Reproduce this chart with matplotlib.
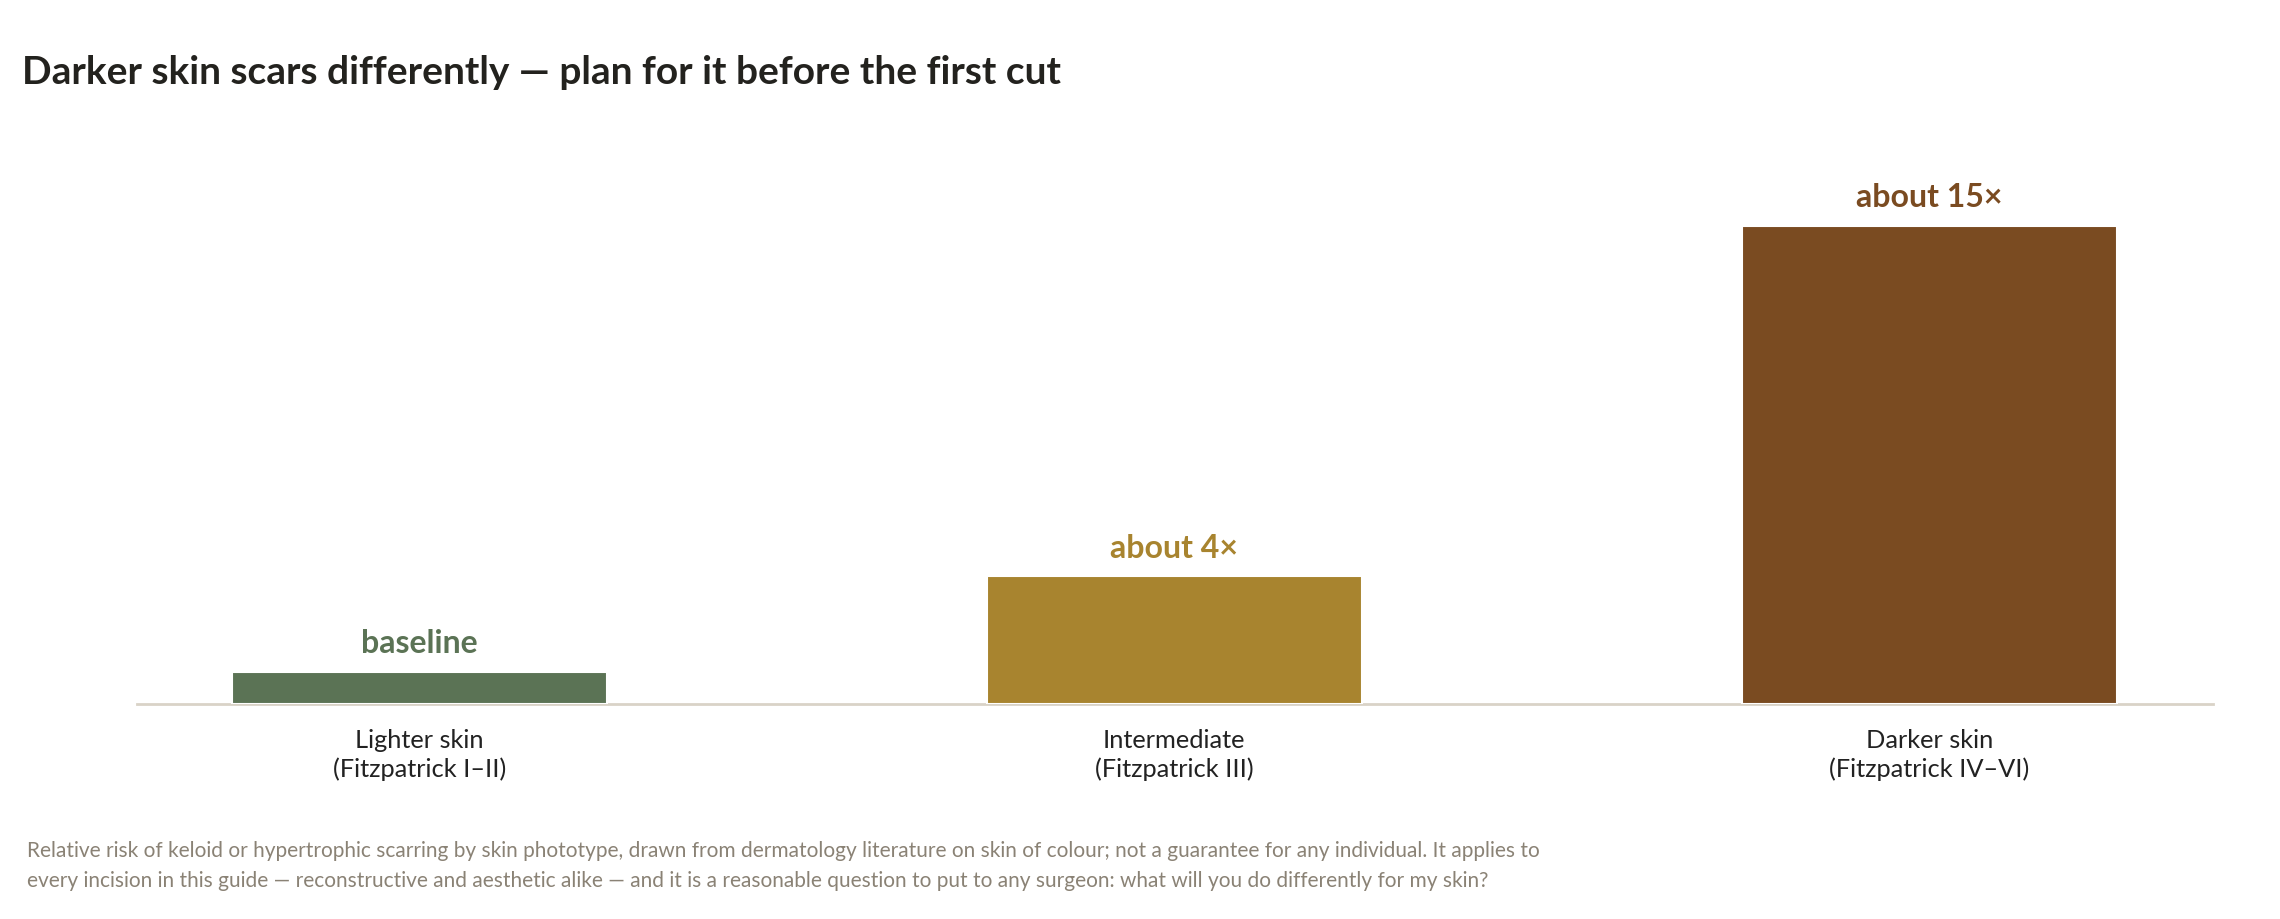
import matplotlib
matplotlib.use("Agg")
import matplotlib.pyplot as plt

# data
categories = ["Lighter skin\n(Fitzpatrick I–II)", "Intermediate\n(Fitzpatrick III)", "Darker skin\n(Fitzpatrick IV–VI)"]
relative_risk = [1, 4, 15]
value_labels = ["baseline", "about 4×", "about 15×"]
bar_colors = ["#5b7355", "#a8842f", "#7a4b21"]

title = "Darker skin scars differently — plan for it before the first cut"
note_lines = [
    "Relative risk of keloid or hypertrophic scarring by skin phototype, drawn from dermatology literature on skin of colour; not a guarantee for any individual. It applies to",
    "every incision in this guide — reconstructive and aesthetic alike — and it is a reasonable question to put to any surgeon: what will you do differently for my skin?",
]

plt.rcParams["font.family"] = ["Lato", "DejaVu Sans"]

fig = plt.figure(figsize=(22.8, 9.19), dpi=100)
fig.patch.set_facecolor("white")
ax = fig.add_axes([0.0601, 0.2340, 0.9105, 0.5724])

x = range(len(categories))
bars = ax.bar(x, relative_risk, width=0.497, color=bar_colors, edgecolor="white", linewidth=1.5, zorder=3)

# value labels just above each bar, same colour as the bar
for rect, lab, col in zip(bars, value_labels, bar_colors):
    ax.annotate(lab, (rect.get_x() + rect.get_width() / 2, rect.get_height()),
                xytext=(0, 13.5), textcoords="offset points",
                ha="center", va="baseline", fontsize=23, fontweight="bold", color=col)

ax.set_xlim(-0.374, 2.376)
ax.set_ylim(0, 16.5)
ax.set_xticks(list(x))
ax.set_xticklabels(categories, fontsize=18.3, color="#222222", linespacing=1.3)
ax.tick_params(axis="x", length=0, pad=18)
ax.set_yticks([])

for side in ["top", "right", "left"]:
    ax.spines[side].set_visible(False)
ax.spines["bottom"].set_color("#d9d3c7")
ax.spines["bottom"].set_linewidth(2)
ax.spines["bottom"].set_zorder(2)

fig.text(22 / 2280, 1 - 84 / 919, title, fontsize=28, fontweight="bold", color="#23221e", va="baseline", ha="left")

fig.text(27 / 2280, 1 - 857 / 919, note_lines[0], fontsize=15, color="#8a8275", va="baseline", ha="left")
fig.text(27 / 2280, 1 - 887 / 919, note_lines[1], fontsize=15, color="#8a8275", va="baseline", ha="left")

fig.savefig("out.png", dpi=100, facecolor="white")
